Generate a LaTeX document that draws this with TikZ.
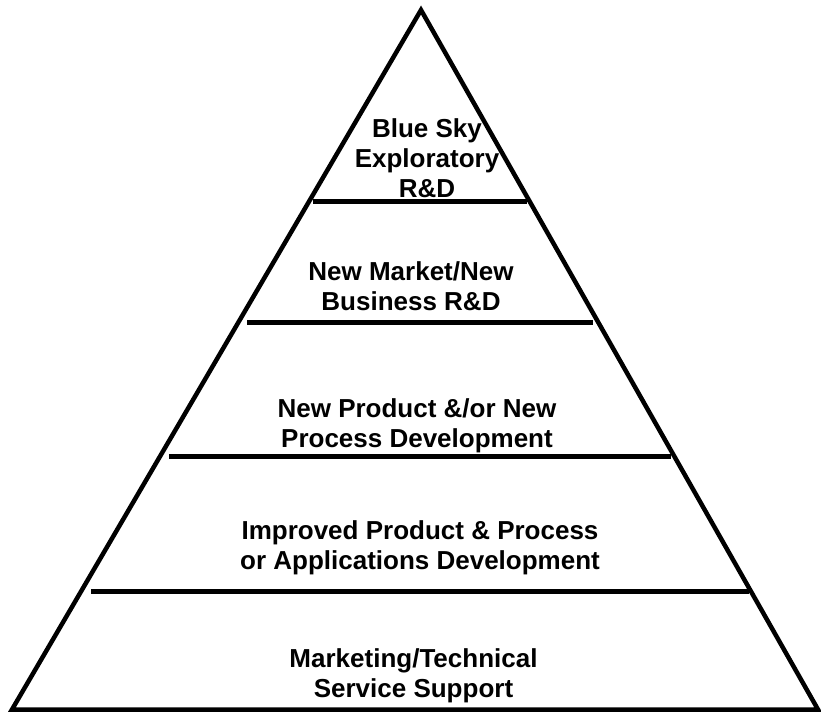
\documentclass[tikz,border=0pt]{standalone}
\usepackage{fontspec}
\setmainfont{Liberation Sans}
\begin{document}
\begin{tikzpicture}[x=1pt,y=-1pt,
  edge/.style={line width=4.5pt, line join=miter},
  divider/.style={line width=4.5pt},
  tier/.style={font=\fontsize{26}{30}\selectfont\bfseries, align=center, inner sep=0pt, anchor=base}]
  \useasboundingbox (0,0) rectangle (821,713);
  % outline of the pyramid
  \coordinate (apex) at (421,10);
  \coordinate (bl) at (12,709.5);
  \coordinate (br) at (818,709.5);
  \draw[edge] (apex) -- (bl) -- (br) -- cycle;
  % dividers between the tiers
  \coordinate (d1l) at (313,201.5); \coordinate (d1r) at (527,201.5);
  \coordinate (d2l) at (247,322.5); \coordinate (d2r) at (593,322.5);
  \coordinate (d3l) at (169,456.5); \coordinate (d3r) at (671,456.5);
  \coordinate (d4l) at (91,591.5);  \coordinate (d4r) at (749,591.5);
  \draw[divider] (d1l) -- (d1r);
  \draw[divider] (d2l) -- (d2r);
  \draw[divider] (d3l) -- (d3r);
  \draw[divider] (d4l) -- (d4r);
  % tier labels (anchored at the baseline of their last line)
  \node[tier] (t1) at (427,197) {Blue Sky\\Exploratory\\R\&D};
  \node[tier] (t2) at (411,310) {New Market/New\\Business R\&D};
  \node[tier] (t3) at (417,447) {New Product \&/or New\\Process Development};
  \node[tier] (t4) at (420,569) {Improved Product \& Process\\or Applications Development};
  \node[tier] (t5) at (413.5,697) {Marketing/Technical\\Service Support};
\end{tikzpicture}
\end{document}
